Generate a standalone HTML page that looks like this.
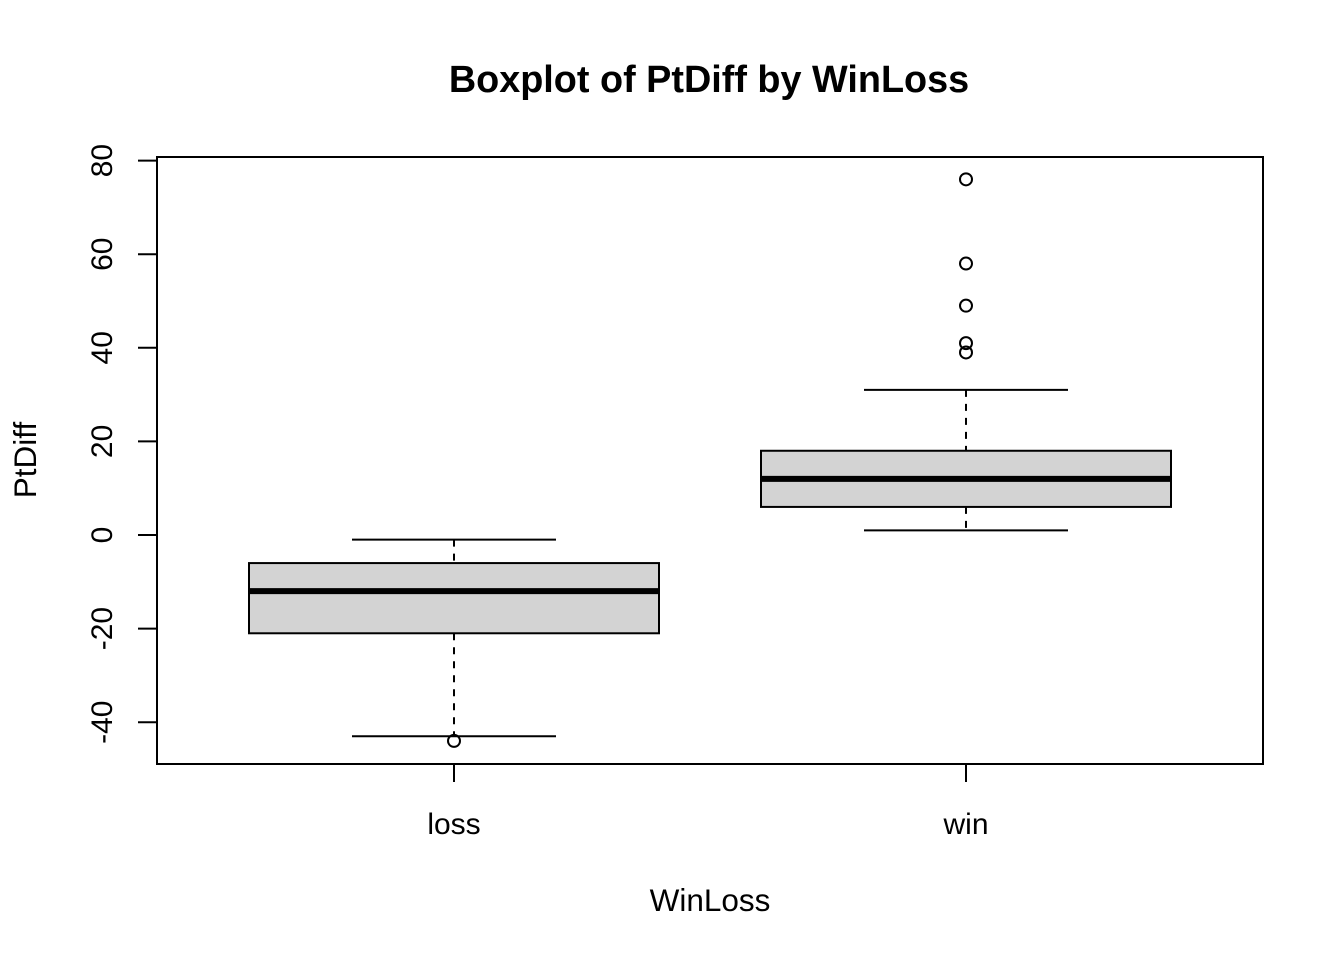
<!DOCTYPE html>
<html><head><meta charset="utf-8"><style>
html,body{margin:0;padding:0;background:#fff;}
svg text{font-family:"Liberation Sans",Arial,sans-serif;fill:#000;}
</style></head><body>
<svg id="chart" width="1344" height="960" xmlns="http://www.w3.org/2000/svg">
<text x="709" y="92" text-anchor="middle" font-size="37.8" font-weight="bold">Boxplot of PtDiff by WinLoss</text>
<rect x="157" y="157" width="1106" height="607" fill="none" stroke="#000" stroke-width="2"/>
<text x="710" y="911" text-anchor="middle" font-size="31.5">WinLoss</text>
<text transform="translate(36,460) rotate(-90)" text-anchor="middle" font-size="31.5">PtDiff</text>
<g id="marks"></g>
</svg>
<script>
const categories = ["loss","win"];
const q1 = [-21, 6];
const medians = [-12, 12];
const q3 = [-6, 18];
const whiskerLow = [-43, 1];
const whiskerHigh = [-1, 31];
const outliers = [[-44],[76,58,49,41,39]];
const yTicks = [-40,-20,0,20,40,60,80];

const NS="http://www.w3.org/2000/svg";
const g=document.getElementById('marks');
function y(v){return 535 - v*4.68;}
function x(i){return 454 + i*512;}
function el(tag,attrs,parent){const e=document.createElementNS(NS,tag);for(const k in attrs)e.setAttribute(k,attrs[k]);(parent||g).appendChild(e);return e;}

yTicks.forEach(t=>{
  const l=el('line',{x1:138,x2:157,y1:y(t),y2:y(t),stroke:'#000','stroke-width':2});
  
  
  const tx=el('text',{transform:`translate(112,${y(t)}) rotate(-90)`,'text-anchor':'middle','font-size':30});
  tx.textContent=t;
  
  
});
categories.forEach((c,i)=>{
  const l=el('line',{x1:x(i),x2:x(i),y1:764,y2:782,stroke:'#000','stroke-width':2});
  
  
  const tx=el('text',{x:x(i),y:834,'text-anchor':'middle','font-size':30});
  tx.textContent=c;
  
  
});
categories.forEach((c,i)=>{
  const cx=x(i);
  const w1=el('line',{x1:cx,x2:cx,y1:y(whiskerHigh[i]),y2:y(q3[i]),stroke:'#000','stroke-width':2,'stroke-dasharray':'7,7'});
  
  
  const w2=el('line',{x1:cx,x2:cx,y1:y(q1[i]),y2:y(whiskerLow[i]),stroke:'#000','stroke-width':2,'stroke-dasharray':'7,7'});
  
  
  [whiskerHigh[i],whiskerLow[i]].forEach(v=>{
    const cap=el('line',{x1:cx-102,x2:cx+102,y1:y(v),y2:y(v),stroke:'#000','stroke-width':2});
    
    
  });
  const b=el('rect',{x:cx-205,y:y(q3[i]),width:410,height:y(q1[i])-y(q3[i]),fill:'#d3d3d3',stroke:'#000','stroke-width':2});
  
  
  const m=el('line',{x1:cx-205,x2:cx+205,y1:y(medians[i]),y2:y(medians[i]),stroke:'#000','stroke-width':6});
  
  
  outliers[i].forEach(v=>{
    const o=el('circle',{cx:cx,cy:y(v),r:6,fill:'none',stroke:'#000','stroke-width':2});
    
    
  });
});
</script>
</body></html>
